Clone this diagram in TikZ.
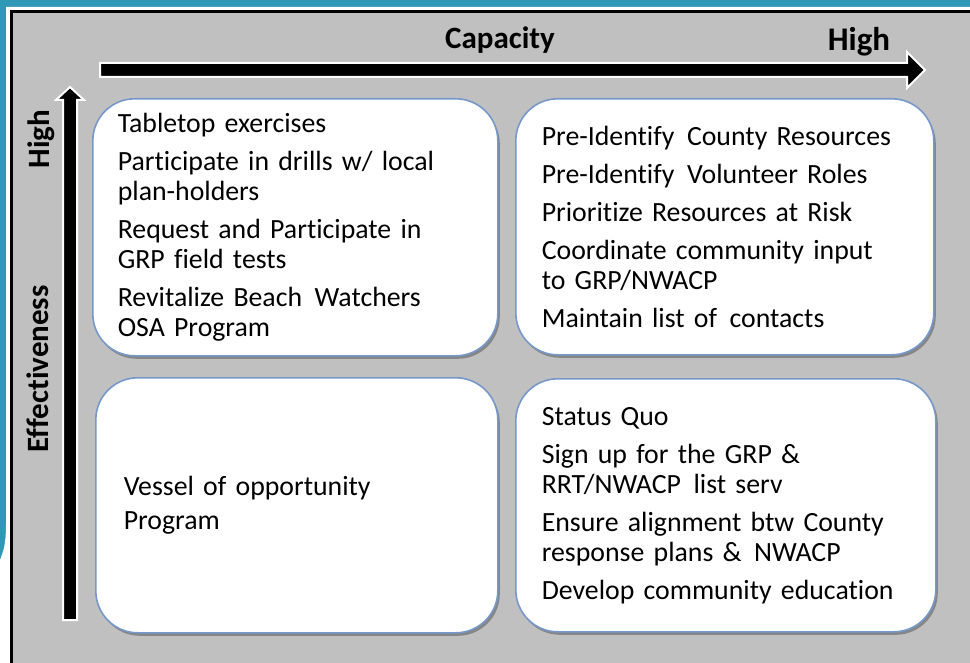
\documentclass[tikz,border=0pt]{standalone}
\usepackage{fontspec}
\setmainfont{Carlito}[Ligatures=NoCommon]
\usetikzlibrary{shadows,positioning,calc}
\definecolor{slideteal}{RGB}{46,152,182}
\definecolor{panelgray}{RGB}{192,192,192}
\definecolor{boxedge}{RGB}{118,152,202}
\newcommand\wsp{\hspace{0.45em}}

\begin{document}
\begin{tikzpicture}[x=1pt, y=-1pt,
    quad/.style={draw=boxedge, line width=1.6pt, fill=white, rounded corners=42pt,
        anchor=north west, align=left, inner ysep=0pt, text=black,
        font=\fontsize{27.8}{30}\selectfont,
        drop shadow={shadow xshift=2pt, shadow yshift=-3pt, opacity=0.3, fill=black}},
    axislabel/.style={font=\bfseries\fontsize{31}{34}\selectfont, inner sep=0pt},
    axisbar/.style={fill=black, draw=white, line width=2pt, line join=miter}]
    \useasboundingbox (0,0) rectangle (970,663);

    % Slide background
    \fill[slideteal] (0,0) rectangle (970,663);
    \fill[white] (6,7) -- (970,7) -- (970,663) -- (0,663) -- (0,560)
        .. controls (3,552) and (6,545) .. (6,525) -- cycle;
    \draw[line width=3pt, fill=panelgray] (11.5,11.5) rectangle (980,680);

    % Capacity axis (horizontal)
    \coordinate (xstart) at (100,70);
    \coordinate (xtip) at (925,70);
    \draw[axisbar] ($(xstart)+(0,-7)$) -- (907,63) -- (907,52) -- (xtip)
        -- (907,88) -- (907,77) -- ($(xstart)+(0,7)$) -- cycle;
    \node[axislabel] (capacity) at (500,40) {Capacity};
    \node[axislabel, font=\bfseries\fontsize{33}{36}\selectfont] (highcap) at (859,42) {High};

    % Effectiveness axis (vertical)
    \coordinate (ystart) at (70,620);
    \coordinate (ytip) at (70,87);
    \draw[axisbar] ($(ystart)+(-7,0)$) -- (63,100) -- (56,100) -- (ytip)
        -- (84,100) -- (77,100) -- ($(ystart)+(7,0)$) -- cycle;
    \node[axislabel, rotate=90] (effect) at (38,369) {Effectiveness};
    \node[axislabel, rotate=90] (higheff) at (41,139) {High};

    % Quadrants
    \node[quad, inner xsep=25pt, text width=355pt, minimum height=257pt] (highlow) at (92,98) {%
        Tabletop exercises\\[8pt]
        Participate in drills w/ local\\ plan-holders\\[8pt]
        Request and Participate in\\ GRP field tests\\[8pt]
        Revitalize Beach\wsp Watchers\\ OSA Program};
    \node[quad, inner xsep=26pt, text width=366pt, minimum height=256pt] (highhigh) at (515,98) {%
        Pre-Identify\wsp County Resources\\[8pt]
        Pre-Identify\wsp Volunteer Roles\\[8pt]
        Prioritize Resources at Risk\\[8pt]
        Coordinate community input\\ to GRP/NWACP\\[8pt]
        Maintain list of\wsp contacts};
    \node[quad, inner xsep=28pt, text width=346pt, minimum height=255pt] (lowlow) at (95,377) {%
        Vessel of opportunity\\[4pt]
        Program};
    \node[quad, inner xsep=26pt, text width=368pt, minimum height=253pt] (lowhigh) at (515,378) {%
        Status Quo\\[8pt]
        Sign up for the GRP \&\\ RRT/NWACP\wsp list serv\\[8pt]
        Ensure alignment btw County\\ response plans \&\wsp NWACP\\[8pt]
        Develop community education};
\end{tikzpicture}
\end{document}
